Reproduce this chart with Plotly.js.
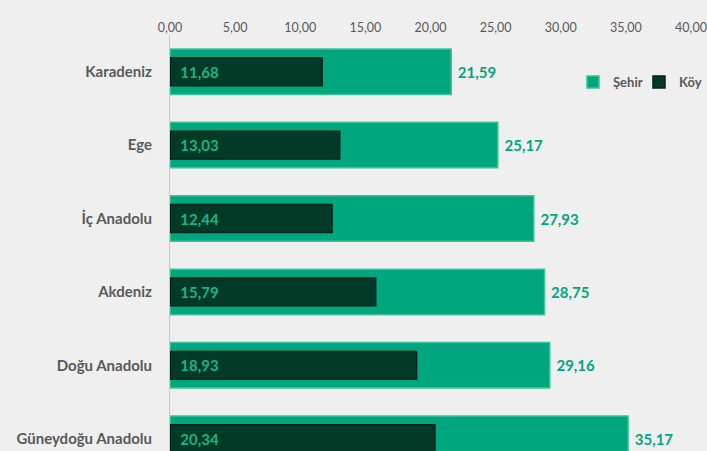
<!DOCTYPE html>
<html>
<head>
<meta charset="utf-8">
<script src="https://cdn.plot.ly/plotly-3.0.1.min.js"></script>
<style>html,body{margin:0;padding:0;background:#efefef;}</style>
</head>
<body>
<div id="chart" style="width:707px;height:451px;"></div>
<script>
const regions = ["Karadeniz", "Ege", "İç Anadolu", "Akdeniz", "Doğu Anadolu", "Güneydoğu Anadolu"];
const sehir = [21.59, 25.17, 27.93, 28.75, 29.16, 35.17];
const koy = [11.68, 13.03, 12.44, 15.79, 18.93, 20.34];
const tickVals = [0, 5, 10, 15, 20, 25, 30, 35, 40];

const fmt = v => v.toFixed(2).replace('.', ',');
const FONT = 'Lato, "Open Sans", sans-serif';

const traces = [
  {
    type: 'bar', orientation: 'h', name: 'Şehir',
    y: regions, x: sehir, width: 0.62,
    marker: {color: '#00a67d', line: {color: '#3cc39a', width: 1.5}},
    text: sehir.map(v => '\u00a0' + fmt(v)), textposition: 'outside', cliponaxis: false,
    textfont: {family: FONT, size: 15, color: '#00a67d', weight: 'bold'},
    hoverinfo: 'none'
  },
  {
    type: 'bar', orientation: 'h', name: 'Köy',
    y: regions, x: koy, width: 0.38,
    marker: {color: '#013b28', line: {color: '#0a1f17', width: 1.5}},
    text: koy.map(v => '\u00a0\u00a0' + fmt(v)), textposition: 'inside', insidetextanchor: 'start',
    textfont: {family: FONT, size: 15, color: '#1db386', weight: 'bold'},
    hoverinfo: 'none'
  }
];

const layout = {
  width: 707, height: 451,
  paper_bgcolor: '#efefef', plot_bgcolor: '#efefef',
  margin: {l: 170, r: 16, t: 35, b: 0, autoexpand: false},
  barmode: 'overlay',
  separators: ',.',
  font: {family: FONT, color: '#595959'},
  showlegend: true,
  legend: {
    orientation: 'h', x: 0.7735, y: 0.887, xanchor: 'left', yanchor: 'middle',
    bgcolor: 'rgba(0,0,0,0)', traceorder: 'normal',
    font: {family: FONT, size: 13, color: '#595959', weight: 'bold'},
    itemwidth: 30, entrywidth: 21, entrywidthmode: 'pixels'
  },
  xaxis: {
    side: 'top', range: [0, 40], tickvals: tickVals, tickformat: '.2f',
    showgrid: false, zeroline: false, showline: false, ticks: '',
    tickfont: {family: FONT, size: 12.5, color: '#595959'},
    ticklabeloverflow: 'allow',
    automargin: false, fixedrange: true
  },
  yaxis: {
    type: 'category', range: [5.167, -0.5],
    showgrid: false, zeroline: false, showline: true, linecolor: '#c8c8c8', linewidth: 1,
    ticks: '', ticklabelstandoff: 14, automargin: false,
    tickfont: {family: FONT, size: 15, color: '#595959', weight: 'bold'},
    fixedrange: true
  }
};

Plotly.newPlot('chart', traces, layout, {displayModeBar: false, staticPlot: true});
</script>
</body>
</html>
